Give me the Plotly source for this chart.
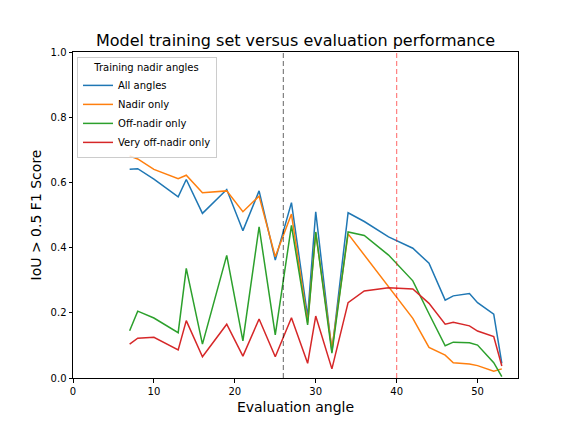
import plotly.graph_objects as go

angles = [7, 8, 10, 13, 14, 16, 19, 21, 23, 25, 27, 29, 30, 32, 34, 36, 39, 42, 44, 46, 47, 49, 50, 52, 53]
all_angles = [0.640, 0.642, 0.610, 0.556, 0.609, 0.505, 0.578, 0.452, 0.574, 0.362, 0.538, 0.188, 0.510, 0.081, 0.507,
              0.480, 0.433, 0.398, 0.352, 0.239, 0.252, 0.259, 0.231, 0.196, 0.045]
nadir_only = [0.681, 0.672, 0.640, 0.611, 0.622, 0.568, 0.574, 0.510, 0.558, 0.372, 0.503, 0.170, 0.446, 0.090, 0.442,
              0.378, 0.280, 0.183, 0.094, 0.070, 0.047, 0.043, 0.038, 0.021, 0.028]
off_nadir_only = [0.145, 0.205, 0.184, 0.139, 0.336, 0.104, 0.376, 0.114, 0.464, 0.132, 0.468, 0.163, 0.448, 0.076, 0.448,
                  0.437, 0.377, 0.298, 0.197, 0.099, 0.110, 0.108, 0.101, 0.047, 0.004]
very_off_nadir_only = [0.104, 0.122, 0.125, 0.086, 0.176, 0.065, 0.165, 0.067, 0.181, 0.065, 0.185, 0.045, 0.190, 0.028, 0.231,
                       0.267, 0.277, 0.273, 0.229, 0.165, 0.171, 0.160, 0.144, 0.127, 0.037]

series_names = ["All angles", "Nadir only", "Off-nadir only", "Very off-nadir only"]
series_values = [all_angles, nadir_only, off_nadir_only, very_off_nadir_only]
colors = ["#1f77b4", "#ff7f0e", "#2ca02c", "#d62728"]

vlines = [26, 40]
vline_colors = ["rgba(0,0,0,0.5)", "rgba(255,0,0,0.5)"]

fig = go.Figure()
for name, vals, c in zip(series_names, series_values, colors):
    fig.add_trace(go.Scatter(x=angles, y=vals, mode="lines", name=name,
                             line=dict(color=c, width=1.5)))

for xv, c in zip(vlines, vline_colors):
    fig.add_shape(type="line", x0=xv, x1=xv, y0=0, y1=1, xref="x", yref="paper",
                  line=dict(color=c, width=1.2, dash="5px,3px"))

font = "DejaVu Sans, sans-serif"
W, H = 568, 424
L, R, T, B = 65, 58, 44, 54
fig.update_layout(
    width=W, height=H,
    margin=dict(l=L, r=R, t=T, b=B),
    paper_bgcolor="white", plot_bgcolor="white",
    font=dict(family=font, size=10, color="black"),
    title=dict(text="Model training set versus evaluation performance",
               x=(L + (W - R)) / 2 / W, xanchor="center", y=1 - 32 / H, yanchor="middle",
               font=dict(size=16, family=font, color="black")),
    xaxis=dict(range=[0, 55], tickvals=[0, 10, 20, 30, 40, 50], showgrid=False, zeroline=False,
               showline=True, linecolor="black", linewidth=1, mirror=True,
               ticks="outside", ticklen=3.5, tickcolor="black", tickwidth=0.8,
               title=dict(text="Evaluation angle", font=dict(size=14, family=font), standoff=6),
               tickfont=dict(size=10)),
    yaxis=dict(range=[0, 1], tickvals=[0, 0.2, 0.4, 0.6, 0.8, 1.0], tickformat=".1f",
               showgrid=False, zeroline=False,
               showline=True, linecolor="black", linewidth=1, mirror=True,
               ticks="outside", ticklen=3.5, tickcolor="black", tickwidth=0.8,
               title=dict(text="IoU > 0.5 F1 Score", font=dict(size=14, family=font), standoff=5),
               tickfont=dict(size=10)),
    legend=dict(x=0.009, y=0.985, xanchor="left", yanchor="top",
                bgcolor="rgba(255,255,255,0.8)", bordercolor="#cccccc", borderwidth=1,
                font=dict(size=10, family=font),
                title=dict(text="Training nadir angles", side="top center", font=dict(size=10)),
                tracegroupgap=0, itemwidth=30),
    showlegend=True,
)

fig.write_html("out.html")
